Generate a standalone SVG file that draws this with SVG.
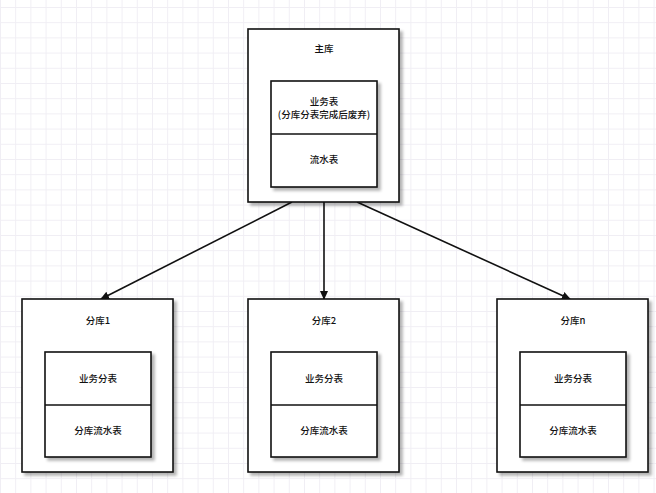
<svg xmlns="http://www.w3.org/2000/svg" width="656" height="493" viewBox="0 0 656 493">
<defs>
<pattern id="grid" width="15.2" height="15.2" patternUnits="userSpaceOnUse" x="0" y="7">
<path d="M0 0.5H15.2M0.5 0V15.2" fill="none" stroke="#f0eef4" stroke-width="1"/>
</pattern>
<filter id="sh" x="-10%" y="-10%" width="130%" height="130%">
<feGaussianBlur in="SourceAlpha" stdDeviation="1.5"/>
<feOffset dx="3" dy="3"/>
<feComponentTransfer><feFuncA type="linear" slope="0.3"/></feComponentTransfer>
<feMerge><feMergeNode/><feMergeNode in="SourceGraphic"/></feMerge>
</filter>
<marker id="arr" markerWidth="10" markerHeight="10" refX="8" refY="5" orient="auto" markerUnits="userSpaceOnUse">
<path d="M0 1L9 5L0 9Z" fill="#111"/>
</marker>
</defs>
<style>
.box{fill:#fff;stroke:#111;stroke-width:1.6;filter:url(#sh)}
.div{stroke:#111;stroke-width:1.6}
.t{font-family:"Noto Sans CJK SC","Liberation Sans",sans-serif;font-size:9.5px;font-weight:500;fill:#111;text-anchor:middle}
.c{stroke:#111;stroke-width:1.6;fill:none;marker-end:url(#arr)}
</style>
<rect width="656" height="493" fill="#fff"/>
<rect width="656" height="493" fill="url(#grid)"/>
<g id="connectors">
<line class="c" x1="292" y1="202" x2="101" y2="299"/>
<line class="c" x1="324" y1="202" x2="324" y2="299"/>
<line class="c" x1="357" y1="202" x2="570" y2="299"/>
</g>
<g id="main">
<rect class="box" x="248" y="29" width="151" height="173"/>
<text class="t" x="324" y="52">主库</text>
<rect class="box" x="271" y="81" width="106" height="106"/>
<line class="div" x1="271" y1="134" x2="377" y2="134"/>
<text class="t" x="324" y="105">业务表</text>
<text class="t" x="324" y="117.5">(分库分表完成后废弃)</text>
<text class="t" x="324" y="163">流水表</text>
</g>
<g id="shard1">
<rect class="box" x="22" y="299" width="151" height="173"/>
<text class="t" x="98" y="324">分库1</text>
<rect class="box" x="45" y="352" width="106" height="105"/>
<line class="div" x1="45" y1="405" x2="151" y2="405"/>
<text class="t" x="98" y="382">业务分表</text>
<text class="t" x="98" y="434">分库流水表</text>
</g>
<g id="shard2">
<rect class="box" x="248" y="299" width="151" height="173"/>
<text class="t" x="324" y="324">分库2</text>
<rect class="box" x="271" y="352" width="106" height="105"/>
<line class="div" x1="271" y1="405" x2="377" y2="405"/>
<text class="t" x="324" y="382">业务分表</text>
<text class="t" x="324" y="434">分库流水表</text>
</g>
<g id="shardn">
<rect class="box" x="497" y="299" width="151" height="173"/>
<text class="t" x="573" y="324">分库n</text>
<rect class="box" x="520" y="352" width="106" height="105"/>
<line class="div" x1="520" y1="405" x2="626" y2="405"/>
<text class="t" x="573" y="382">业务分表</text>
<text class="t" x="573" y="434">分库流水表</text>
</g>
</svg>
